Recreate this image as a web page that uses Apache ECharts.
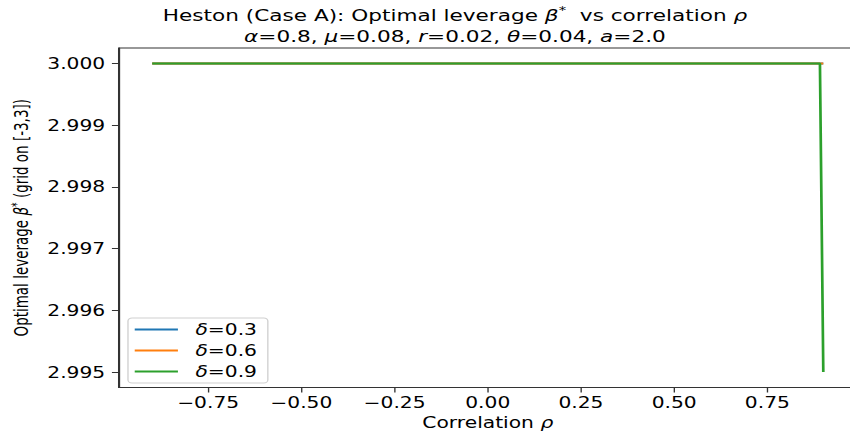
<!DOCTYPE html>
<html>
<head>
<meta charset="utf-8">
<script src="https://cdn.jsdelivr.net/npm/echarts@6/dist/echarts.min.js"></script>
<style>
html,body{margin:0;padding:0;background:#fff;overflow:hidden;width:850px;height:432px}
#c{width:660px;height:432px;transform:scaleX(1.35);transform-origin:0 0}
</style>
</head>
<body>
<div id="c"></div>
<script>
// ---- data ----
const seriesNames = ['δ=0.3', 'δ=0.6', 'δ=0.9'];
const rhoBlue = [-0.9, 0.9];
const betaBlue = [3.0, 3.0];
const rhoOrange = [-0.9, 0.9];
const betaOrange = [3.0, 3.0];
const rhoGreen = [-0.9, 0.891, 0.9];
const betaGreen = [3.0, 3.0, 2.995];
const xTicks = [-0.75, -0.5, -0.25, 0, 0.25, 0.5, 0.75];
const yTicks = [2.995, 2.996, 2.997, 2.998, 2.999, 3.0];

const colors = ['#1f77b4', '#ff7f0e', '#2ca02c'];
const FONT = 'DejaVu Sans';
const COND = 'DejaVu Sans Condensed';

function pairs(xs, ys) { return xs.map((x, i) => [x, ys[i]]); }
function fmtX(v) {
  const s = Math.abs(v).toFixed(2);
  return (v < -1e-9 ? '\u2212' : '') + s;
}

const chart = echarts.init(document.getElementById('c'), null, { renderer: 'svg' });

const option = {
  animation: false,
  backgroundColor: '#fff',
  title: {
    left: 332,
    top: 0,
    textAlign: 'center',
    text: '{n|Heston (Case A): Optimal leverage }{i|β}{s|*}{n|  vs correlation }{i|ρ}\n' +
          '{i|α}{n|=0.8, }{i|μ}{n|=0.08, }{i|r}{n|=0.02, }{i|θ}{n|=0.04, }{i|a}{n|=2.0}',
    textStyle: {
      fontFamily: FONT, fontSize: 16, color: '#000', fontWeight: 'normal', lineHeight: 21,
      rich: {
        n: { fontFamily: FONT, fontSize: 16, color: '#000', lineHeight: 21 },
        i: { fontFamily: FONT, fontSize: 16, color: '#000', fontStyle: 'italic', lineHeight: 21 },
        s: { fontFamily: FONT, fontSize: 11, color: '#000', verticalAlign: 'top', lineHeight: 21, padding: [0, 0, 8, 0] }
      }
    }
  },
  grid: {
    left: 87.9, top: 48, width: 546.8, height: 339.5,
    outerBoundsMode: 'none',
    show: true, borderColor: '#333', borderWidth: 1, backgroundColor: 'transparent'
  },
  legend: {
    left: 94.8, top: 318,
    orient: 'vertical',
    icon: 'rect',
    itemWidth: 32, itemHeight: 2, itemGap: 6,
    padding: [4, 8, 4, 5],
    borderColor: '#d0d0d0', borderWidth: 1, borderRadius: 3,
    backgroundColor: 'rgba(255,255,255,0.8)',
    data: seriesNames,
    formatter: function (name) { return '{i|δ}{n|' + name.slice(1) + '}'; },
    textStyle: {
      fontFamily: FONT, fontSize: 15, lineHeight: 15, color: '#000', padding: [0, 0, 0, 8],
      rich: {
        i: { fontFamily: FONT, fontSize: 15, lineHeight: 15, fontStyle: 'italic', color: '#000' },
        n: { fontFamily: FONT, fontSize: 15, lineHeight: 15, color: '#000' }
      }
    }
  },
  xAxis: {
    type: 'value', min: -0.99, max: 0.99,
    name: '{n|Correlation }{i|ρ}', nameLocation: 'middle', nameGap: 27,
    nameTextStyle: {
      fontFamily: FONT, fontSize: 15, color: '#000',
      rich: {
        n: { fontFamily: FONT, fontSize: 15, color: '#000' },
        i: { fontFamily: FONT, fontSize: 15, color: '#000', fontStyle: 'italic' }
      }
    },
    splitLine: { show: false },
    axisLine: { show: true, onZero: false, lineStyle: { color: '#333', width: 1 } },
    axisTick: { show: true, length: 5, inside: false, customValues: xTicks, lineStyle: { color: '#333' } },
    axisLabel: { customValues: xTicks, formatter: fmtX, fontFamily: FONT, fontSize: 15, color: '#000', margin: 8 }
  },
  yAxis: {
    type: 'value', min: 2.99475, max: 3.00025,
    name: '{n|Optimal leverage }{i|β}{s|*}{n| (grid on [-3,3])}', nameLocation: 'middle', nameGap: 65,
    nameTextStyle: {
      fontFamily: COND, fontSize: 15, color: '#000',
      rich: {
        n: { fontFamily: COND, fontSize: 15, color: '#000' },
        i: { fontFamily: COND, fontSize: 15, color: '#000', fontStyle: 'italic' },
        s: { fontFamily: COND, fontSize: 10, color: '#000', verticalAlign: 'top', padding: [0, 0, 6, 0] }
      }
    },
    splitLine: { show: false },
    axisLine: { show: true, onZero: false, lineStyle: { color: '#333', width: 1 } },
    axisTick: { show: true, length: 5, inside: false, customValues: yTicks, lineStyle: { color: '#333' } },
    axisLabel: { customValues: yTicks, formatter: v => v.toFixed(3), fontFamily: FONT, fontSize: 15, color: '#000', margin: 10 }
  },
  series: [
    { name: seriesNames[0], type: 'line', data: pairs(rhoBlue, betaBlue), symbol: 'none', color: colors[0], lineStyle: { width: 2, color: colors[0] } },
    { name: seriesNames[1], type: 'line', data: pairs(rhoOrange, betaOrange), symbol: 'none', color: colors[1], lineStyle: { width: 2, color: colors[1] } },
    { name: seriesNames[2], type: 'line', data: pairs(rhoGreen, betaGreen), symbol: 'none', color: colors[2], lineStyle: { width: 2, color: colors[2] } }
  ]
};
chart.setOption(option);
</script>
</body>
</html>
